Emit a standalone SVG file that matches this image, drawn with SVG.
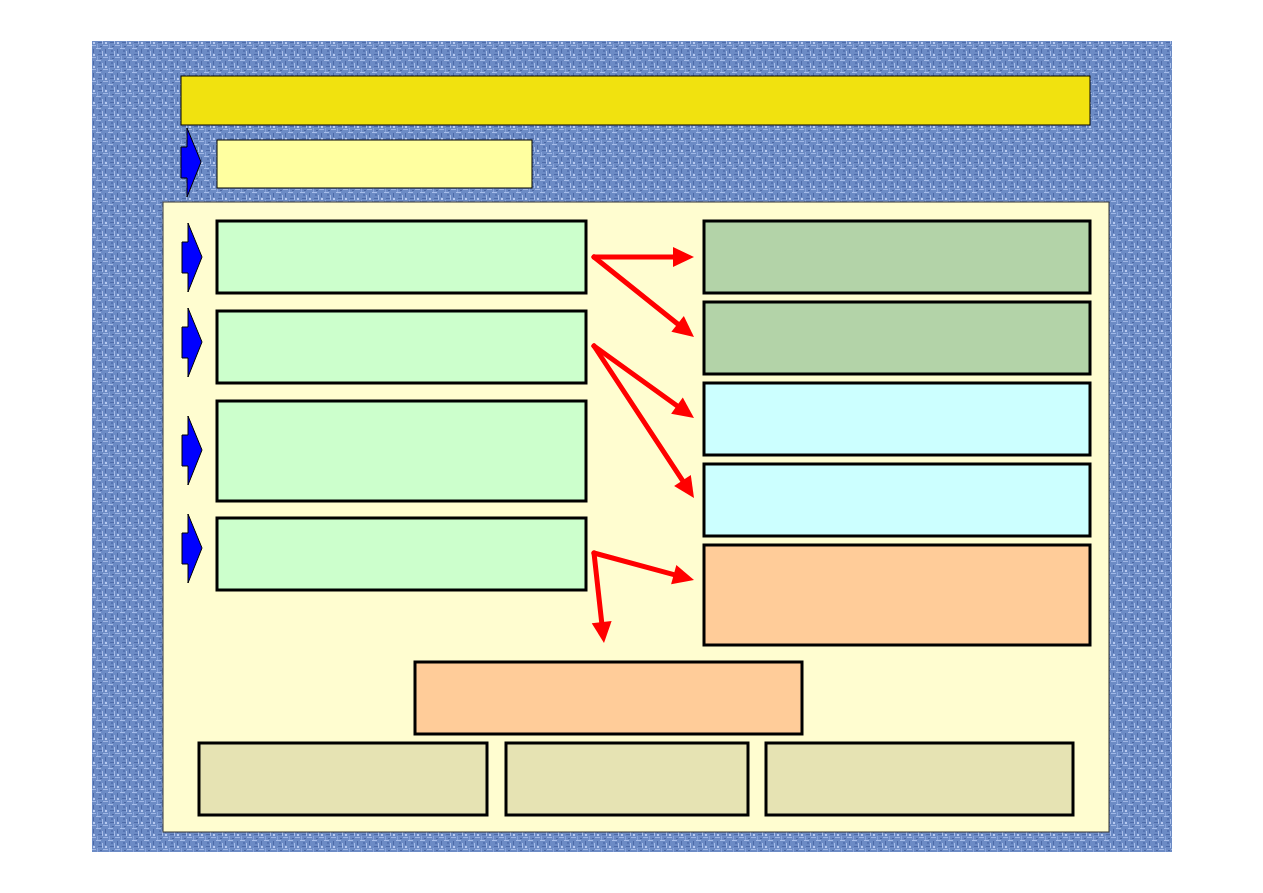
<svg xmlns="http://www.w3.org/2000/svg" width="1263" height="893" viewBox="0 0 1263 893">
<defs>
<pattern id="tex" x="0" y="0" width="12" height="12" patternUnits="userSpaceOnUse">
<rect width="12" height="12" fill="#6c8bc5"/>
<rect x="0" y="0" width="5" height="1" fill="#a7bde9"/>
<rect x="6" y="3" width="1" height="5" fill="#a7bde9"/>
<rect x="2" y="6" width="4" height="1" fill="#4d6aa8"/>
<rect x="9" y="1" width="1" height="4" fill="#4d6aa8"/>
<rect x="7" y="9" width="5" height="1" fill="#9fb6e4"/>
<rect x="1" y="8" width="1" height="4" fill="#8aa5dc"/>
<rect x="3" y="2" width="2" height="2" fill="#5674b2"/>
<rect x="9" y="6" width="2" height="2" fill="#b8caf0"/>
<rect x="4" y="10" width="2" height="1" fill="#4a66a2"/>
</pattern>
<path id="barrow" d="M6,0 L20,34 L6,69 L6,50 L0,50 L0,19 L6,19 Z"/>
</defs>
<style>
.box{stroke:#000;stroke-width:3}
.thin{stroke:#000;stroke-width:1}
.ba{fill:#0000ff;stroke:#000;stroke-width:1}
.ra{stroke:#ff0000;stroke-width:5;fill:none;stroke-linecap:round}
.rh{fill:#ff0000}
</style>
<rect width="1263" height="893" fill="#ffffff"/>
<rect id="bg" x="92" y="41" width="1080" height="811" fill="url(#tex)"/>
<g id="title"><rect x="181" y="76" width="909" height="49" fill="#f1e20f" class="thin"/></g>
<g id="arrow0"><use href="#barrow" x="181" y="128" class="ba"/></g>
<g id="subtitle"><rect x="217" y="140" width="315" height="48" fill="#ffffa0" class="thin"/></g>
<g id="panel"><rect x="163" y="202" width="946" height="630" fill="#fffdd0" stroke="#333" stroke-width="1"/></g>
<g id="arrow1"><use href="#barrow" x="182" y="223" class="ba"/></g>
<g id="arrow2"><use href="#barrow" x="182" y="308" class="ba"/></g>
<g id="arrow3"><use href="#barrow" x="182" y="416" class="ba"/></g>
<g id="arrow4"><use href="#barrow" x="182" y="514" class="ba"/></g>
<g id="L1"><rect x="217" y="221" width="369" height="72" fill="#ccffcc" class="box"/></g>
<g id="L2"><rect x="217" y="311" width="369" height="72" fill="#ccffcc" class="box"/></g>
<g id="L3"><rect x="217" y="401" width="369" height="100" fill="#ccffcc" class="box"/></g>
<g id="L4"><rect x="217" y="518" width="369" height="72" fill="#ccffcc" class="box"/></g>
<g id="R1"><rect x="704" y="221" width="386" height="72" fill="#b3d3a8" class="box"/></g>
<g id="R2"><rect x="704" y="302" width="386" height="72" fill="#b3d3a8" class="box"/></g>
<g id="R3"><rect x="704" y="383" width="386" height="72" fill="#ccffff" class="box"/></g>
<g id="R4"><rect x="704" y="464" width="386" height="72" fill="#ccffff" class="box"/></g>
<g id="R5"><rect x="704" y="545" width="386" height="100" fill="#ffcc99" class="box"/></g>
<g id="C1"><rect x="415" y="662" width="387" height="72" fill="#ffcc99" class="box"/></g>
<g id="B1"><rect x="199" y="743" width="288" height="72" fill="#e6e3b3" class="box"/></g>
<g id="B2"><rect x="506" y="743" width="242" height="72" fill="#e6e3b3" class="box"/></g>
<g id="B3"><rect x="766" y="743" width="307" height="72" fill="#e6e3b3" class="box"/></g>
<g id="connectors">
<line x1="594" y1="257" x2="676" y2="257" class="ra"/>
<polygon points="694,257 673,267 673,247" class="rh"/>
<line x1="594" y1="257" x2="679.9" y2="325.75" class="ra"/>
<polygon points="694,337 671.35,331.71 683.85,316.09" class="rh"/>
<line x1="594" y1="346" x2="679.39" y2="407.48" class="ra"/>
<polygon points="694,418 671.11,413.85 682.79,397.61" class="rh"/>
<line x1="594" y1="346" x2="684.1" y2="482.96" class="ra"/>
<polygon points="694,498 674.1,485.95 690.82,474.95" class="rh"/>
<line x1="594" y1="553" x2="676.62" y2="575.31" class="ra"/>
<polygon points="694,580 671.12,584.18 676.34,564.88" class="rh"/>
<line x1="594" y1="553" x2="602.01" y2="625.11" class="ra"/>
<polygon points="604,643 591.74,623.23 611.62,621.03" class="rh"/>
</g>
</svg>
